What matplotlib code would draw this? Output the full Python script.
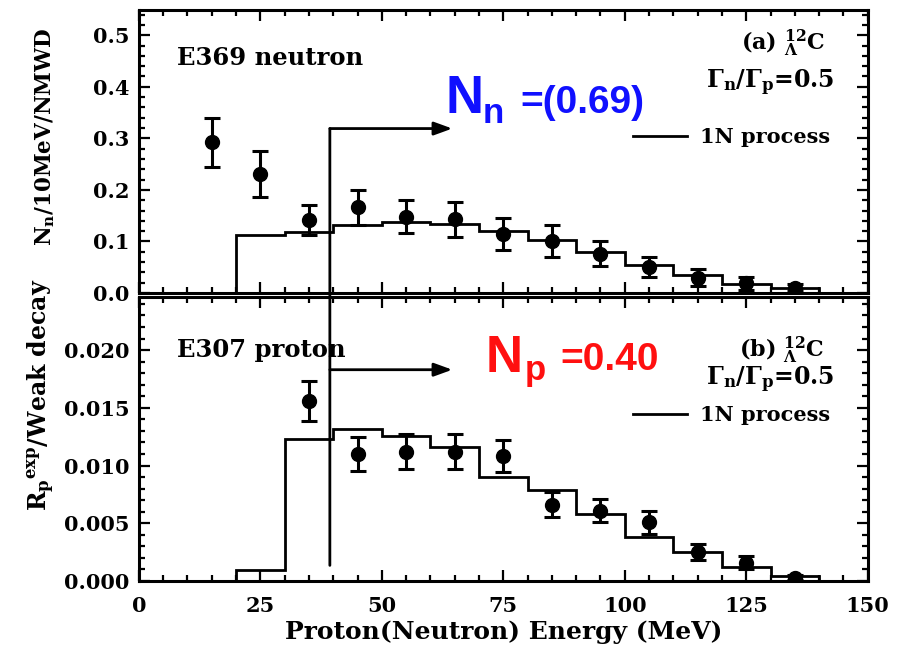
import matplotlib
matplotlib.use("Agg")
import matplotlib.pyplot as plt
from matplotlib.patches import ConnectionPatch
from matplotlib.ticker import MultipleLocator
import numpy as np

plt.rcParams['font.family'] = ['DejaVu Serif']
plt.rcParams['font.weight'] = 'bold'
plt.rcParams['axes.labelweight'] = 'bold'
plt.rcParams['mathtext.fontset'] = 'custom'
plt.rcParams['mathtext.rm'] = 'DejaVu Serif:bold'
plt.rcParams['mathtext.it'] = 'DejaVu Serif:bold'
plt.rcParams['mathtext.bf'] = 'DejaVu Serif:bold'

# E369 neutron spectrum (top)
n_energy = [15, 25, 35, 45, 55, 65, 75, 85, 95, 105, 115, 125, 135]
n_yield = [0.292, 0.231, 0.142, 0.166, 0.148, 0.143, 0.114, 0.101, 0.076, 0.050, 0.030, 0.019, 0.010]
n_err = [0.048, 0.044, 0.029, 0.034, 0.032, 0.034, 0.031, 0.031, 0.024, 0.019, 0.016, 0.013, 0.007]

# E307 proton spectrum (bottom)
p_energy = [35, 45, 55, 65, 75, 85, 95, 105, 115, 125, 135]
p_yield = [0.0156, 0.0110, 0.0112, 0.0112, 0.0108, 0.0066, 0.0061, 0.0051, 0.0025, 0.0016, 0.0003]
p_err = [0.0017, 0.0015, 0.0015, 0.0015, 0.0014, 0.0011, 0.0010, 0.0010, 0.0007, 0.0006, 0.0002]

# 1N process calculation (histograms, 10 MeV bins)
bin_edges = [20, 30, 40, 50, 60, 70, 80, 90, 100, 110, 120, 130, 140]
n_calc = [0.112, 0.119, 0.132, 0.137, 0.134, 0.120, 0.103, 0.080, 0.054, 0.035, 0.017, 0.010]
p_calc = [0.00096, 0.0123, 0.0132, 0.0126, 0.0116, 0.0090, 0.0079, 0.0058, 0.0038, 0.0025, 0.0012, 0.0004]

# arrow annotation
arrow_x = 39.3
arrow_end = 64.5
arrow_y_top = 0.319
arrow_y_bot = 0.0183
line_end_bot = 0.00135

fig = plt.figure(figsize=(9.02, 6.53), dpi=100)
ax1 = fig.add_axes([0.154, 0.5513, 0.808, 0.4334])
ax2 = fig.add_axes([0.154, 0.1103, 0.808, 0.4349])

for ax in (ax1, ax2):
    ax.set_xlim(0, 150)
    ax.xaxis.set_major_locator(MultipleLocator(25))
    ax.xaxis.set_minor_locator(MultipleLocator(5))
    ax.tick_params(which='both', direction='in', top=True, right=True, width=1.6, labelsize=15)
    ax.tick_params(which='major', length=8)
    ax.tick_params(which='minor', length=4)
    ax.tick_params(axis='x', pad=11)
    ax.tick_params(axis='y', pad=7)
    for sp in ax.spines.values():
        sp.set_linewidth(2.2)

ax1.set_ylim(0, 0.549)
ax1.yaxis.set_major_locator(MultipleLocator(0.1))
ax1.yaxis.set_minor_locator(MultipleLocator(0.02))
ax1.yaxis.set_major_formatter(plt.FormatStrFormatter('%.1f'))
ax1.tick_params(labelbottom=False)

ax2.set_ylim(0, 0.0246)
ax2.yaxis.set_major_locator(MultipleLocator(0.005))
ax2.yaxis.set_minor_locator(MultipleLocator(0.001))
ax2.yaxis.set_major_formatter(plt.FormatStrFormatter('%.3f'))

# histograms
h1 = ax1.stairs(n_calc, bin_edges, baseline=0, color='black', lw=2.0, label='1N process')
h2 = ax2.stairs(p_calc, bin_edges, baseline=0, color='black', lw=2.0, label='1N process')

# data points
ax1.errorbar(n_energy, n_yield, yerr=n_err, fmt='o', color='black', ms=10,
             elinewidth=2.2, capsize=6, capthick=2.2)
ax2.errorbar(p_energy, p_yield, yerr=p_err, fmt='o', color='black', ms=10,
             elinewidth=2.2, capsize=6, capthick=2.2)

# labels
ax1.set_ylabel(r'N$_\mathrm{n}$/10MeV/NMWD', fontsize=15.5)
ax2.set_ylabel(r'R$_\mathrm{p}$$^\mathrm{exp}$/Weak decay', fontsize=17)
ax1.yaxis.set_label_coords(-0.112, 0.551)
ax2.yaxis.set_label_coords(-0.112, 0.655)
ax2.set_xlabel('Proton(Neutron) Energy (MeV)', fontsize=18, labelpad=3)

ax1.text(0.052, 0.83, 'E369 neutron', transform=ax1.transAxes, fontsize=17.5, va='center')
ax2.text(0.052, 0.813, 'E307 proton', transform=ax2.transAxes, fontsize=17.5, va='center')

ax1.text(0.941, 0.883, r'(a) $^{12}_{\Lambda}$C', transform=ax1.transAxes, fontsize=16,
         ha='right', va='center')
ax1.text(0.955, 0.742, r'$\Gamma_\mathrm{n}/\Gamma_\mathrm{p}$=0.5', transform=ax1.transAxes,
         fontsize=17, ha='right', va='center')
ax2.text(0.941, 0.813, r'(b) $^{12}_{\Lambda}$C', transform=ax2.transAxes, fontsize=16,
         ha='right', va='center')
ax2.text(0.955, 0.708, r'$\Gamma_\mathrm{n}/\Gamma_\mathrm{p}$=0.5', transform=ax2.transAxes,
         fontsize=17, ha='right', va='center')

ax1.legend(handles=[h1], loc='center right', bbox_to_anchor=(0.948, 0.551), frameon=False,
           fontsize=15, handlelength=2.6, handletextpad=0.6, borderpad=0, borderaxespad=0)
ax2.legend(handles=[h2], loc='center right', bbox_to_anchor=(0.948, 0.585), frameon=False,
           fontsize=15, handlelength=2.6, handletextpad=0.6, borderpad=0, borderaxespad=0)

# big coloured annotations
narrow = ['Liberation Sans Narrow', 'Liberation Sans']
sans = ['Liberation Sans']
ax1.text(63.0, 0.349, 'N', color='#1010ff', fontsize=38, family=narrow, weight='bold', va='baseline')
ax1.text(70.7, 0.329, 'n', color='#1010ff', fontsize=25, family=sans, weight='bold', va='baseline')
ax1.text(78.6, 0.349, '=(0.69)', color='#1010ff', fontsize=28, family=sans, weight='bold', va='baseline')

ax2.text(71.4, 0.0181, 'N', color='#ff1010', fontsize=37, family=narrow, weight='bold', va='baseline')
ax2.text(79.4, 0.0174, 'p', color='#ff1010', fontsize=25, family=sans, weight='bold', va='baseline')
ax2.text(86.8, 0.0183, '=0.40', color='#ff1010', fontsize=28, family=sans, weight='bold', va='baseline')

# arrows
for ax, yy in ((ax1, arrow_y_top), (ax2, arrow_y_bot)):
    ax.annotate('', xy=(arrow_end, yy), xytext=(arrow_x, yy),
                arrowprops=dict(arrowstyle='-|>,head_length=1.1,head_width=0.4',
                                color='black', lw=2.0, shrinkA=0, shrinkB=0))
con = ConnectionPatch(xyA=(arrow_x, arrow_y_top), coordsA=ax1.transData,
                      xyB=(arrow_x, line_end_bot), coordsB=ax2.transData,
                      color='black', lw=2.0)
fig.add_artist(con)

fig.savefig('out.png', dpi=100)
